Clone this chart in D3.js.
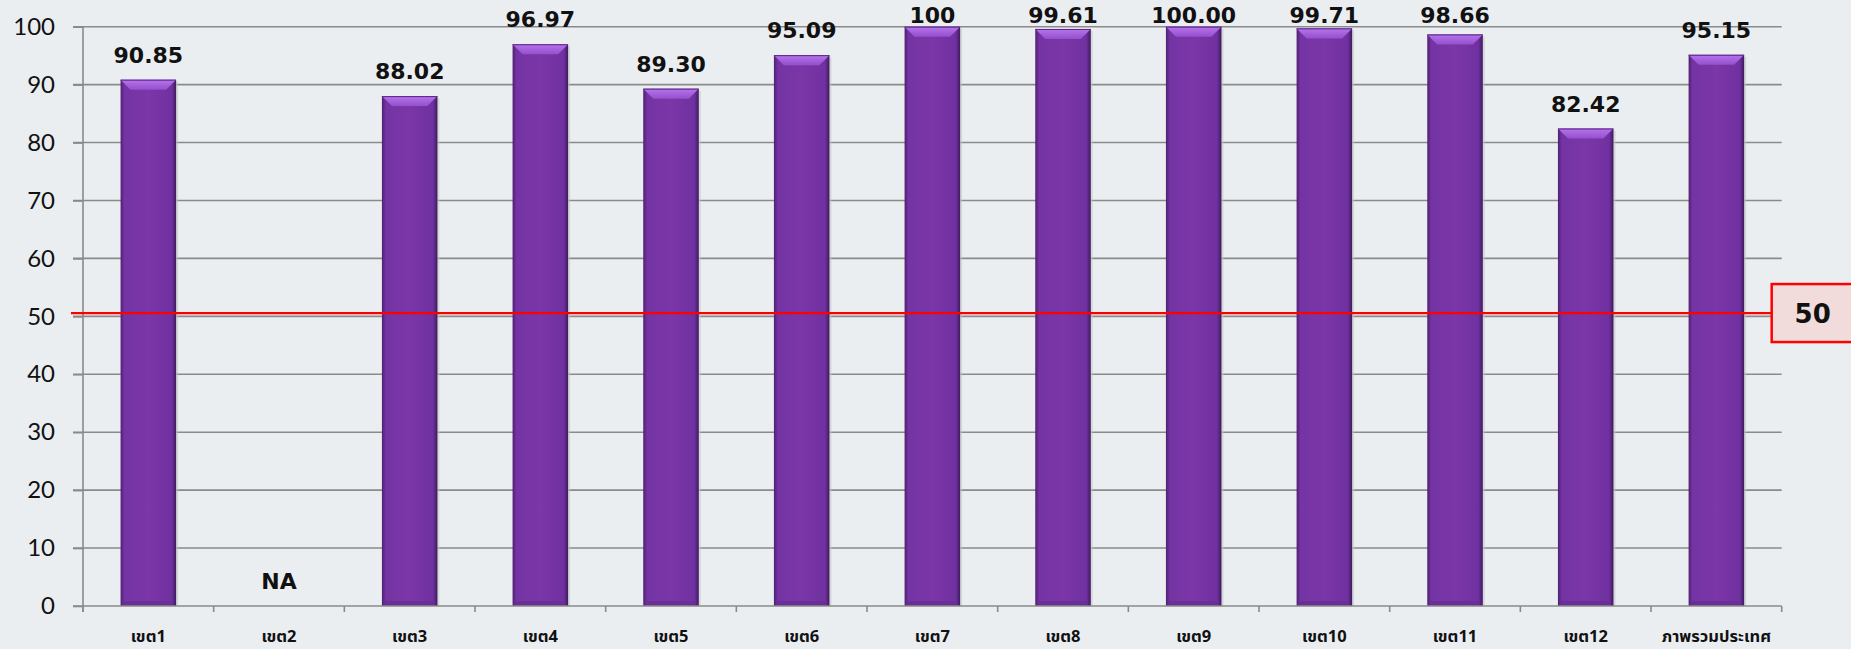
<!DOCTYPE html>
<html>
<head>
<meta charset="utf-8">
<script src="https://cdnjs.cloudflare.com/ajax/libs/d3/7.8.5/d3.min.js"></script>
<style>
    html, body { margin: 0; padding: 0; background: #ebeef1; }
    svg { display: block; }
</style>
</head>
<body>
<div id="chart"></div>
<script>
// data
var categories = ["เขต1","เขต2","เขต3","เขต4","เขต5","เขต6","เขต7","เขต8","เขต9","เขต10","เขต11","เขต12","ภาพรวมประเทศ"];
var values = [90.85, null, 88.02, 96.97, 89.30, 95.09, 100, 99.61, 100.00, 99.71, 98.66, 82.42, 95.15];
var valueLabels = ["90.85","NA","88.02","96.97","89.30","95.09","100","99.61","100.00","99.71","98.66","82.42","95.15"];
var yTicks = [0,10,20,30,40,50,60,70,80,90,100];
var targetValue = 50;
var targetLabel = "50";

var W = 1851, H = 649,
    margin = {top: 26.7, left: 83, right: 69.3, bottom: 43},
    iw = W - margin.left - margin.right,
    ih = H - margin.top - margin.bottom;

var svg = d3.select("#chart").append("svg")
    .attr("width", W)
    .attr("height", H);

var defs = svg.append("defs");
var grad = defs.append("linearGradient").attr("id","barGrad")
    .attr("x1","0").attr("x2","1").attr("y1","0").attr("y2","0");
grad.append("stop").attr("offset","0").attr("stop-color","#4e2072");
grad.append("stop").attr("offset","0.07").attr("stop-color","#7434a3");
grad.append("stop").attr("offset","0.5").attr("stop-color","#7b36a8");
grad.append("stop").attr("offset","0.92").attr("stop-color","#7031a0");
grad.append("stop").attr("offset","1").attr("stop-color","#3f1a5e");
var bevGrad = defs.append("linearGradient").attr("id","bevGrad")
    .attr("x1","0").attr("x2","0").attr("y1","0").attr("y2","1");
bevGrad.append("stop").attr("offset","0").attr("stop-color","#b574ec");
bevGrad.append("stop").attr("offset","1").attr("stop-color","#9550cc");

svg.append("rect").attr("width",W).attr("height",H).attr("fill","#ebeef1");

var g = svg.append("g").attr("transform","translate("+margin.left+","+margin.top+")");

var x = d3.scaleBand().domain(categories).range([0, iw]).padding(0);
var y = d3.scaleLinear().domain([0,100]).range([ih, 0]);
var barW = x.bandwidth()*0.425;

function drawGrid(){
    g.append("g").attr("class","grid")
        .selectAll("line").data(yTicks.filter(function(d){ return d>0; }))
        .enter().append("line")
        .attr("x1",-10).attr("x2",iw)
        .attr("y1",function(d){ return y(d); })
        .attr("y2",function(d){ return y(d); })
        .attr("stroke","#8a8a8a").attr("stroke-width",1.6);
};

function drawAxes(){
    var ya = g.append("g").call(d3.axisLeft(y).tickValues(yTicks).tickSize(10).tickPadding(18));
    ya.select(".domain").attr("stroke","#8a8a8a").attr("stroke-width",1.6).attr("d","M0,0V"+(ih+6));
    ya.selectAll(".tick line").attr("stroke","#8a8a8a").attr("stroke-width",1.6);
    ya.selectAll("text")
        .attr("font-family","Lato, 'Open Sans', sans-serif")
        .attr("font-size",24)
        .attr("fill","#111");

    var xa = g.append("g").attr("transform","translate(0,"+ih+")");
    xa.append("line").attr("x1",-10).attr("x2",iw)
        .attr("stroke","#8a8a8a").attr("stroke-width",1.6);
    xa.selectAll("line.tick").data(d3.range(categories.length+1))
        .enter().append("line").attr("class","tick")
        .attr("x1",function(i){ return i*x.step(); })
        .attr("x2",function(i){ return i*x.step(); })
        .attr("y1",0).attr("y2",6)
        .attr("stroke","#8a8a8a").attr("stroke-width",1.6);
    xa.selectAll("text").data(categories)
        .enter().append("text")
        .attr("x",function(d){ return x(d)+x.bandwidth()/2; })
        .attr("y",36)
        .attr("text-anchor","middle")
        .attr("font-family","Tahoma, 'Noto Sans Thai', 'Noto Sans', sans-serif")
        .attr("font-weight","bold")
        .attr("font-size",16.5)
        .attr("fill","#111")
        .text(function(d){ return d; });
};

function drawBars(){
    var bars = g.append("g").selectAll("g.bar")
        .data(categories.map(function(c,i){ return {c:c, v:values[i], l:valueLabels[i]}; }))
        .enter().append("g").attr("class","bar");

    bars.filter(function(d){ return d.v!==null; }).each(function(d){
        var b = d3.select(this);
        var x0 = x(d.c)+(x.bandwidth()-barW)/2,
            y0 = y(d.v),
            h = ih - y0,
            bev = 10;
        b.append("rect").attr("x",x0+2).attr("y",y0+2).attr("width",barW).attr("height",h-2)
            .attr("fill","#c4c6ca").attr("opacity",0.6);
        b.append("rect").attr("x",x0).attr("y",y0).attr("width",barW).attr("height",h)
            .attr("fill","url(#barGrad)");
        b.append("path")
            .attr("d","M"+x0+","+y0+"H"+(x0+barW)+"L"+(x0+barW-bev)+","+(y0+bev)+"H"+(x0+bev)+"Z")
            .attr("fill","url(#bevGrad)");
        b.append("line").attr("x1",x0).attr("x2",x0+barW).attr("y1",y0+0.5).attr("y2",y0+0.5)
            .attr("stroke","#5a2585").attr("stroke-width",1);
        b.append("rect").attr("x",x0+3).attr("y",ih-5).attr("width",barW-6).attr("height",5)
            .attr("fill","#6a2e96");
    });

    bars.append("text")
        .attr("x",function(d){ return x(d.c)+x.bandwidth()/2; })
        .attr("y",function(d){
            var top = d.v===null ? ih : y(d.v);
            return Math.max(top-17, 22.5-margin.top);
        })
        .attr("text-anchor","middle")
        .attr("font-family","'DejaVu Sans', Verdana, sans-serif")
        .attr("font-weight","bold")
        .attr("font-size",22)
        .attr("fill","#111")
        .text(function(d){ return d.l; });
};

function drawTarget(){
    var ty = y(targetValue)-3.3;
    g.append("line").attr("x1",-12).attr("x2",iw-10)
        .attr("y1",ty).attr("y2",ty)
        .attr("stroke","#ff0000").attr("stroke-width",2.2);
    var bx = iw-10, bw = 90, bh = 58;
    g.append("rect").attr("x",bx).attr("y",ty-bh/2).attr("width",bw).attr("height",bh)
        .attr("fill","#f2dcdb").attr("stroke","#ff0000").attr("stroke-width",2.5);
    g.append("text").attr("x",bx+41).attr("y",ty+9.5)
        .attr("text-anchor","middle")
        .attr("font-family","'DejaVu Sans', Verdana, sans-serif")
        .attr("font-weight","bold")
        .attr("font-size",26)
        .attr("fill","#111")
        .text(targetLabel);
};

drawGrid();
drawBars();
drawAxes();
drawTarget();
</script>
</body>
</html>
